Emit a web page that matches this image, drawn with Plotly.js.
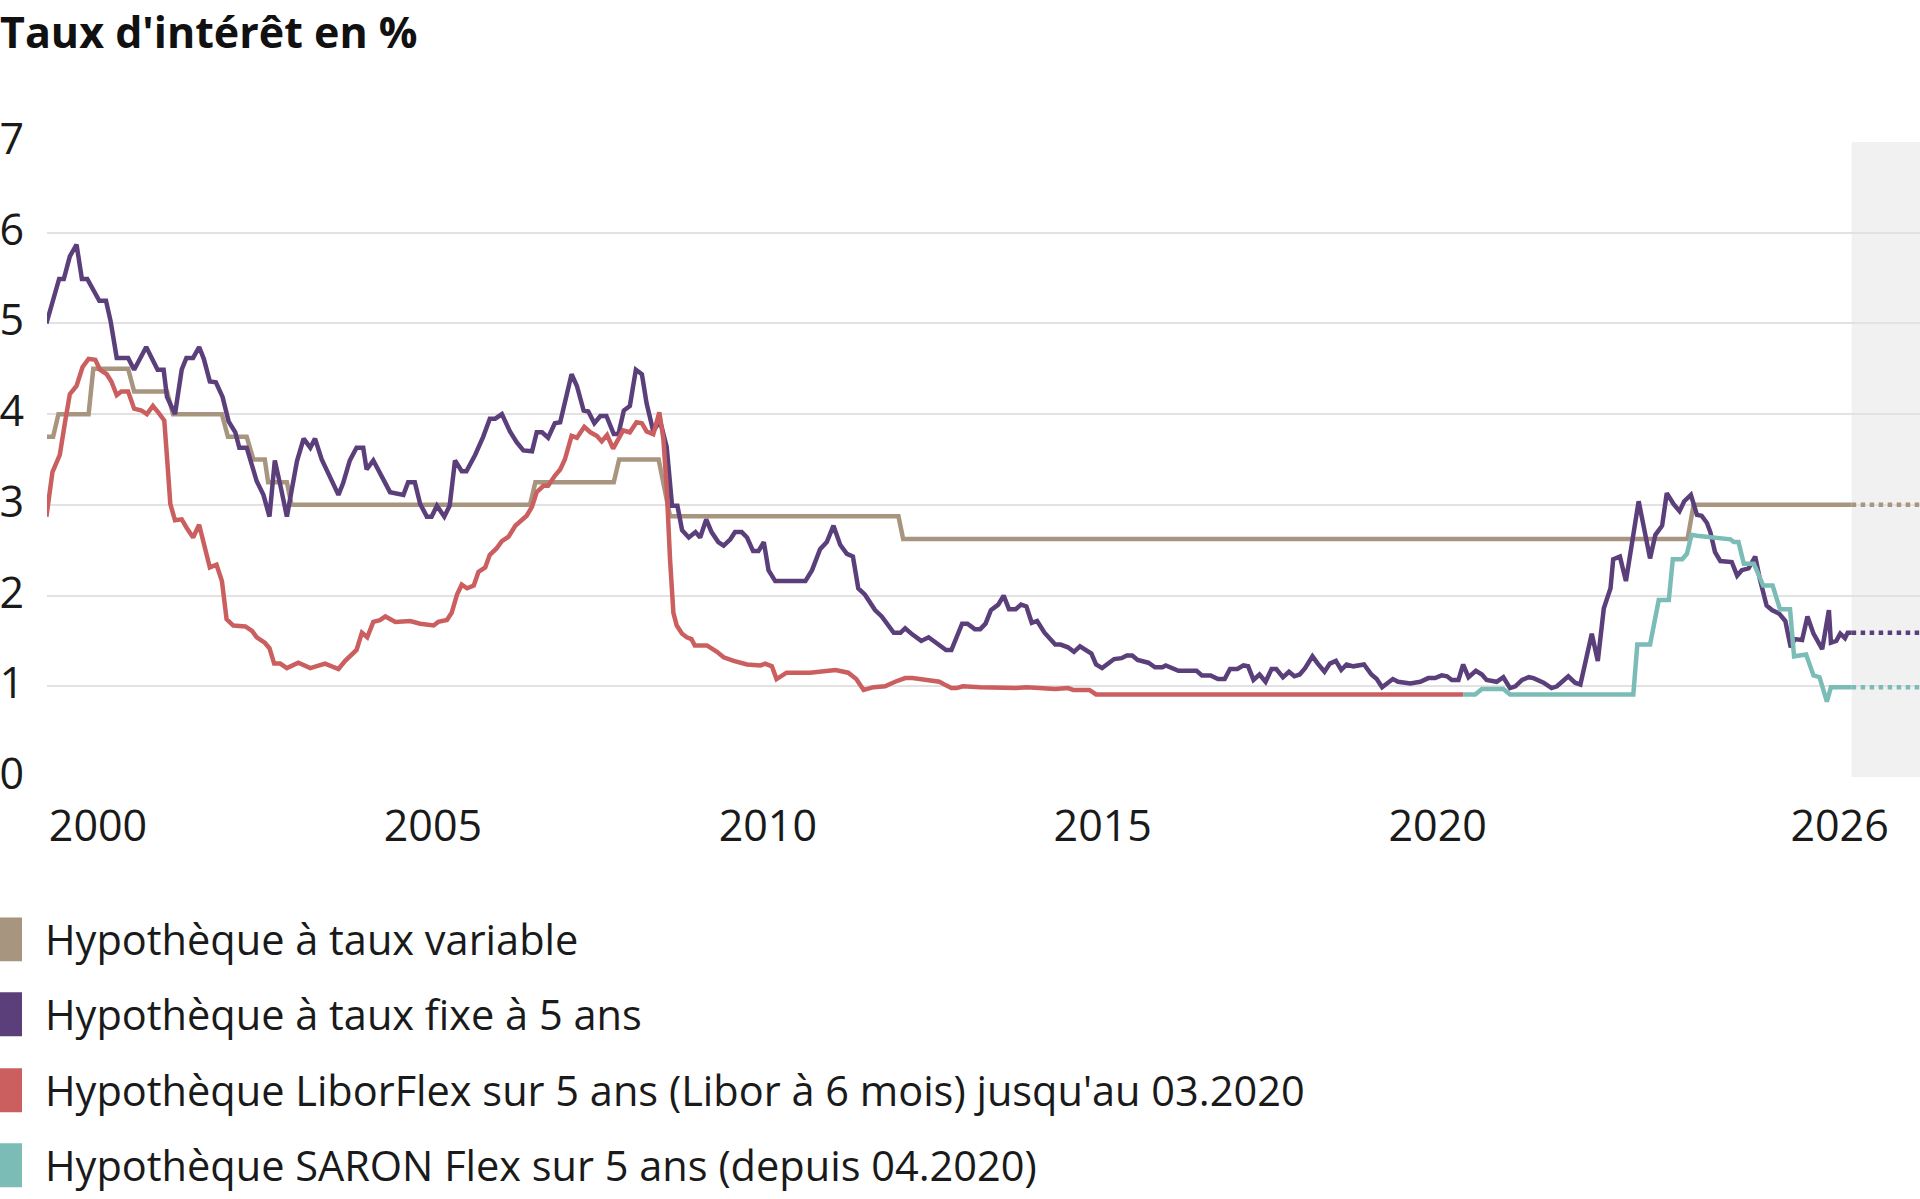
<!DOCTYPE html>
<html>
<head>
<meta charset="utf-8">
<script src="https://cdn.plot.ly/plotly-3.0.1.min.js"></script>
<style>
  html, body { margin: 0; padding: 0; background: #ffffff; }
  #chart { width: 1920px; height: 1199px; }
</style>
</head>
<body>
<div id="chart"></div>
<script>
// values, x in decimal years
var seriesNames = [
    "Hypothèque à taux variable",
    "Hypothèque à taux fixe à 5 ans",
    "Hypothèque LiborFlex sur 5 ans (Libor à 6 mois) jusqu'au 03.2020",
    "Hypothèque SARON Flex sur 5 ans (depuis 04.2020)"
];

var variableX = [1999.23, 1999.33, 1999.41, 1999.86, 1999.93, 2000.45, 2000.54, 2001.03, 2001.12, 2001.85,
    2001.94, 2002.22, 2002.32, 2002.49, 2002.54, 2002.82, 2002.89, 2006.45, 2006.53, 2007.70,
    2007.78, 2008.37, 2008.54, 2011.95, 2012.02, 2023.73, 2023.82, 2026.18];
var variableY = [3.75, 3.75, 4.0, 4.0, 4.5, 4.5, 4.25, 4.25, 4.0, 4.0,
    3.75, 3.75, 3.5, 3.5, 3.25, 3.25, 3.0, 3.0, 3.25, 3.25,
    3.5, 3.5, 2.875, 2.875, 2.625, 2.625, 3.0, 3.0];

var fixedX = [1999.23, 1999.42, 1999.49, 1999.58, 1999.68, 1999.76, 1999.84, 1999.93, 2000.02, 2000.12,
    2000.19, 2000.28, 2000.45, 2000.54, 2000.72, 2000.89, 2000.98, 2001.03, 2001.15, 2001.25,
    2001.32, 2001.42, 2001.51, 2001.58, 2001.67, 2001.76, 2001.86, 2001.95, 2002.05, 2002.11,
    2002.22, 2002.37, 2002.47, 2002.56, 2002.64, 2002.73, 2002.82, 2002.97, 2003.07, 2003.17,
    2003.24, 2003.34, 2003.59, 2003.66, 2003.76, 2003.86, 2003.96, 2004.01, 2004.11, 2004.36,
    2004.56, 2004.63, 2004.73, 2004.81, 2004.91, 2004.98, 2005.06, 2005.17, 2005.25, 2005.33,
    2005.43, 2005.50, 2005.63, 2005.75, 2005.85, 2005.93, 2006.03, 2006.15, 2006.25, 2006.35,
    2006.48, 2006.55, 2006.63, 2006.72, 2006.82, 2006.90, 2007.07, 2007.15, 2007.25, 2007.32,
    2007.41, 2007.50, 2007.59, 2007.70, 2007.77, 2007.85, 2007.94, 2008.03, 2008.12, 2008.19,
    2008.29, 2008.39, 2008.49, 2008.57, 2008.65, 2008.72, 2008.82, 2008.92, 2008.99, 2009.08,
    2009.16, 2009.26, 2009.34, 2009.44, 2009.51, 2009.61, 2009.69, 2009.78, 2009.86, 2009.94,
    2010.01, 2010.11, 2010.56, 2010.66, 2010.78, 2010.88, 2010.98, 2011.08, 2011.18, 2011.27,
    2011.35, 2011.45, 2011.60, 2011.70, 2011.88, 2011.98, 2012.05, 2012.16, 2012.29, 2012.40,
    2012.53, 2012.66, 2012.74, 2012.90, 2012.98, 2013.09, 2013.17, 2013.25, 2013.33, 2013.44,
    2013.52, 2013.60, 2013.70, 2013.78, 2013.86, 2013.94, 2014.02, 2014.13, 2014.29, 2014.37,
    2014.48, 2014.57, 2014.66, 2014.77, 2014.83, 2014.90, 2014.99, 2015.17, 2015.28, 2015.36,
    2015.44, 2015.52, 2015.68, 2015.78, 2015.89, 2015.94, 2016.13, 2016.40, 2016.48, 2016.61,
    2016.72, 2016.82, 2016.90, 2017.01, 2017.10, 2017.17, 2017.25, 2017.34, 2017.43, 2017.52,
    2017.59, 2017.69, 2017.78, 2017.86, 2017.94, 2018.02, 2018.13, 2018.21, 2018.31, 2018.39,
    2018.48, 2018.56, 2018.64, 2018.74, 2018.90, 2019.01, 2019.09, 2019.17, 2019.33, 2019.41,
    2019.59, 2019.74, 2019.86, 2019.96, 2020.06, 2020.14, 2020.21, 2020.31, 2020.38, 2020.46,
    2020.57, 2020.66, 2020.73, 2020.88, 2020.98, 2021.08, 2021.16, 2021.26, 2021.36, 2021.43,
    2021.58, 2021.70, 2021.78, 2021.95, 2022.05, 2022.13, 2022.30, 2022.39, 2022.48, 2022.58,
    2022.62, 2022.72, 2022.81, 2023.00, 2023.17, 2023.25, 2023.35, 2023.42, 2023.52, 2023.61,
    2023.68, 2023.78, 2023.87, 2023.94, 2024.02, 2024.07, 2024.14, 2024.22, 2024.31, 2024.39,
    2024.47, 2024.54, 2024.64, 2024.74, 2024.81, 2024.91, 2024.99, 2025.10, 2025.19, 2025.27,
    2025.33, 2025.44, 2025.52, 2025.61, 2025.74, 2025.84, 2025.87, 2025.95, 2026.01, 2026.08,
    2026.12, 2026.18];
var fixedY = [5.00, 5.49, 5.49, 5.74, 5.87, 5.49, 5.49, 5.37, 5.25, 5.25,
    5.02, 4.62, 4.62, 4.49, 4.74, 4.49, 4.49, 4.19, 4.00, 4.49,
    4.62, 4.62, 4.74, 4.61, 4.36, 4.35, 4.19, 3.92, 3.80, 3.63,
    3.63, 3.26, 3.11, 2.87, 3.49, 3.19, 2.87, 3.48, 3.73, 3.63,
    3.73, 3.50, 3.11, 3.24, 3.49, 3.63, 3.63, 3.39, 3.49, 3.14,
    3.11, 3.25, 3.25, 3.01, 2.87, 2.87, 2.99, 2.87, 2.99, 3.49,
    3.37, 3.37, 3.55, 3.75, 3.95, 3.95, 4.00, 3.81, 3.69, 3.60,
    3.59, 3.80, 3.80, 3.74, 3.90, 3.91, 4.44, 4.31, 4.04, 4.03,
    3.90, 3.98, 3.98, 3.78, 3.78, 4.04, 4.09, 4.49, 4.44, 4.12,
    3.81, 3.93, 3.64, 2.99, 2.99, 2.72, 2.64, 2.70, 2.64, 2.84,
    2.70, 2.59, 2.55, 2.62, 2.70, 2.70, 2.64, 2.49, 2.49, 2.59,
    2.28, 2.16, 2.16, 2.28, 2.51, 2.59, 2.77, 2.56, 2.46, 2.43,
    2.08, 2.01, 1.84, 1.77, 1.59, 1.59, 1.64, 1.57, 1.50, 1.54,
    1.47, 1.40, 1.40, 1.69, 1.69, 1.63, 1.63, 1.69, 1.84, 1.90,
    2.00, 1.85, 1.85, 1.90, 1.88, 1.70, 1.72, 1.59, 1.46, 1.46,
    1.43, 1.38, 1.44, 1.39, 1.36, 1.24, 1.20, 1.30, 1.31, 1.34,
    1.34, 1.29, 1.26, 1.21, 1.21, 1.23, 1.17, 1.17, 1.12, 1.12,
    1.08, 1.08, 1.19, 1.19, 1.23, 1.22, 1.07, 1.13, 1.05, 1.19,
    1.19, 1.10, 1.16, 1.11, 1.13, 1.20, 1.33, 1.25, 1.16, 1.25,
    1.28, 1.18, 1.24, 1.22, 1.24, 1.13, 1.08, 0.99, 1.08, 1.05,
    1.03, 1.05, 1.09, 1.09, 1.12, 1.11, 1.07, 1.07, 1.24, 1.10,
    1.17, 1.13, 1.07, 1.05, 1.10, 0.98, 1.00, 1.07, 1.10, 1.09,
    1.04, 0.98, 1.00, 1.11, 1.04, 1.02, 1.58, 1.28, 1.86, 2.08,
    2.40, 2.43, 2.16, 3.04, 2.41, 2.67, 2.77, 3.13, 3.01, 2.93,
    3.04, 3.11, 2.89, 2.88, 2.80, 2.70, 2.48, 2.38, 2.38, 2.37,
    2.22, 2.28, 2.30, 2.43, 2.18, 1.89, 1.84, 1.80, 1.72, 1.43,
    1.52, 1.51, 1.77, 1.58, 1.41, 1.84, 1.48, 1.50, 1.58, 1.53,
    1.59, 1.59];

var liborX = [1999.23, 1999.32, 1999.36, 1999.43, 1999.51, 1999.58, 1999.68, 1999.77, 1999.86, 1999.96,
    2000.03, 2000.13, 2000.20, 2000.28, 2000.35, 2000.45, 2000.54, 2000.65, 2000.73, 2000.82,
    2000.90, 2000.99, 2001.03, 2001.08, 2001.15, 2001.25, 2001.33, 2001.42, 2001.51, 2001.58,
    2001.67, 2001.77, 2001.85, 2001.92, 2002.02, 2002.20, 2002.30, 2002.37, 2002.49, 2002.56,
    2002.63, 2002.72, 2002.82, 2002.99, 2003.17, 2003.39, 2003.59, 2003.69, 2003.86, 2003.94,
    2004.02, 2004.11, 2004.21, 2004.29, 2004.44, 2004.66, 2004.81, 2005.01, 2005.08, 2005.21,
    2005.28, 2005.36, 2005.43, 2005.51, 2005.61, 2005.68, 2005.78, 2005.85, 2005.95, 2006.03,
    2006.13, 2006.23, 2006.30, 2006.40, 2006.48, 2006.55, 2006.65, 2006.72, 2006.82, 2006.90,
    2006.97, 2007.07, 2007.15, 2007.26, 2007.35, 2007.45, 2007.52, 2007.60, 2007.69, 2007.77,
    2007.84, 2007.94, 2008.04, 2008.12, 2008.19, 2008.29, 2008.38, 2008.44, 2008.49, 2008.54,
    2008.59, 2008.64, 2008.72, 2008.79, 2008.86, 2008.91, 2009.09, 2009.24, 2009.34, 2009.49,
    2009.69, 2009.89, 2009.96, 2010.06, 2010.13, 2010.28, 2010.63, 2011.01, 2011.20, 2011.32,
    2011.43, 2011.58, 2011.75, 2011.90, 2012.05, 2012.16, 2012.29, 2012.40, 2012.56, 2012.66,
    2012.74, 2012.82, 2012.91, 2013.17, 2013.70, 2013.86, 2014.29, 2014.48, 2014.56, 2014.80,
    2014.90, 2020.38];
var liborY = [2.87, 3.36, 3.43, 3.55, 3.92, 4.22, 4.31, 4.52, 4.61, 4.60,
    4.49, 4.44, 4.36, 4.21, 4.25, 4.25, 4.06, 4.04, 4.00, 4.09,
    4.02, 3.93, 3.53, 3.01, 2.83, 2.84, 2.74, 2.64, 2.78, 2.55,
    2.31, 2.34, 2.16, 1.74, 1.67, 1.66, 1.61, 1.54, 1.48, 1.42,
    1.25, 1.25, 1.20, 1.26, 1.20, 1.25, 1.19, 1.28, 1.40, 1.59,
    1.54, 1.71, 1.73, 1.77, 1.71, 1.72, 1.69, 1.67, 1.71, 1.73,
    1.81, 2.01, 2.12, 2.08, 2.11, 2.26, 2.31, 2.45, 2.52, 2.60,
    2.65, 2.77, 2.82, 2.88, 2.98, 3.14, 3.21, 3.21, 3.32, 3.39,
    3.50, 3.76, 3.74, 3.86, 3.80, 3.76, 3.70, 3.77, 3.62, 3.73,
    3.82, 3.80, 3.91, 3.90, 3.81, 3.78, 4.02, 3.73, 3.19, 2.40,
    1.81, 1.67, 1.58, 1.54, 1.52, 1.45, 1.45, 1.38, 1.32, 1.28,
    1.24, 1.23, 1.25, 1.22, 1.08, 1.15, 1.15, 1.18, 1.15, 1.08,
    0.96, 0.99, 1.00, 1.05, 1.09, 1.09, 1.08, 1.06, 1.05, 1.01,
    0.98, 0.98, 1.00, 0.99, 0.98, 0.99, 0.97, 0.98, 0.96, 0.96,
    0.91, 0.91];

var saronX = [2020.38, 2020.56, 2020.66, 2020.98, 2021.08, 2022.92, 2022.98, 2023.17, 2023.30, 2023.45,
    2023.51, 2023.65, 2023.72, 2023.79, 2023.87, 2024.22, 2024.37, 2024.42, 2024.49, 2024.57,
    2024.72, 2024.86, 2025.00, 2025.11, 2025.26, 2025.32, 2025.50, 2025.61, 2025.70, 2025.81,
    2025.87, 2026.18];
var saronY = [0.91, 0.91, 0.97, 0.97, 0.91, 0.91, 1.46, 1.46, 1.95, 1.95,
    2.40, 2.40, 2.46, 2.67, 2.66, 2.64, 2.62, 2.59, 2.59, 2.35,
    2.35, 2.11, 2.11, 1.85, 1.85, 1.33, 1.35, 1.12, 1.10, 0.83,
    0.99, 0.99];

// dotted continuation in the grey zone
var outlookX = [2026.18, 2027.2];
var outlookVariable = [3.0, 3.0];
var outlookFixed = [1.59, 1.59];
var outlookSaron = [0.99, 0.99];

var yearTicks = [2000, 2005, 2010, 2015, 2020, 2026];
var rateTicks = [0, 1, 2, 3, 4, 5, 6, 7];

var colors = ['#a8957f', '#5b3f7b', '#cb5f5f', '#7bbdb6'];


///////////////////////////////////////////////////////////////////////////////
var W = 1920, H = 1199;
var margin = {l: 47, r: 0, t: 142, b: 421.5};
var px2x = (px) => (px - margin.l) / (W - margin.l - margin.r);
var py2y = (py) => (H - margin.b - py) / (H - margin.t - margin.b);

var fontFamily = '"Open Sans", "Noto Sans", sans-serif';

function line_create(x, y, color, dash)
{
    return {
        type: 'scatter',
        mode: 'lines',
        x: x,
        y: y,
        line: {color: color, width: 4.5, dash: dash || 'solid'},
        hoverinfo: 'skip',
        showlegend: false,
    };
}

var traces = [];
traces.push( line_create(variableX, variableY, colors[0]) );
traces.push( line_create(fixedX, fixedY, colors[1]) );
traces.push( line_create(liborX, liborY, colors[2]) );
traces.push( line_create(saronX, saronY, colors[3]) );
traces.push( line_create(outlookX, outlookVariable, colors[0], 'dot') );
traces.push( line_create(outlookX, outlookFixed, colors[1], 'dot') );
traces.push( line_create(outlookX, outlookSaron, colors[3], 'dot') );

// legend: tall swatch + label, built by hand
var legendRows = [940, 1015, 1091, 1166];
var shapes = [];
var annotations = [];

shapes.push({
    type: 'rect', layer: 'below',
    xref: 'x', yref: 'y',
    x0: outlookX[0], x1: outlookX[1], y0: 0, y1: 7,
    fillcolor: '#f1f1f2', line: {width: 0},
});

seriesNames.forEach((name, i) => {
    var cy = legendRows[i];
    shapes.push({
        type: 'rect', xref: 'paper', yref: 'paper',
        x0: px2x(0), x1: px2x(22), y0: py2y(cy + 22), y1: py2y(cy - 22),
        fillcolor: colors[i], line: {width: 0},
    });
    annotations.push({
        text: name, xref: 'paper', yref: 'paper',
        x: px2x(43), y: py2y(cy), xanchor: 'left', yanchor: 'middle',
        showarrow: false,
        font: {family: fontFamily, size: 41.5, color: '#1a1a1a'},
    });
});

var layout = {
    width: W,
    height: H,
    margin: margin,
    paper_bgcolor: '#ffffff',
    plot_bgcolor: '#ffffff',
    showlegend: false,
    hovermode: false,
    font: {family: fontFamily, color: '#1a1a1a'},
    title: {
        text: "<b>Taux d'intérêt en %</b>",
        x: 0, xref: 'container', xanchor: 'left',
        y: 1 - 33 / H, yref: 'container', yanchor: 'middle',
        font: {family: fontFamily, size: 43, color: '#111111'},
    },
    xaxis: {
        type: 'linear',
        range: [1999.239, 2027.2],
        tickvals: yearTicks,
        ticktext: yearTicks.map(String),
        showgrid: false,
        zeroline: false,
        showline: false,
        ticks: '',
        ticklabelstandoff: 20,
        tickfont: {family: fontFamily, size: 43, color: '#1a1a1a'},
    },
    yaxis: {
        range: [0, 7],
        tickvals: rateTicks,
        showgrid: true,
        gridcolor: '#e2e2e2',
        gridwidth: 2,
        zeroline: false,
        showline: false,
        ticks: '',
        ticklabelstandoff: 22,
        ticklabelshift: -3,
        tickfont: {family: fontFamily, size: 43, color: '#1a1a1a'},
    },
    shapes: shapes,
    annotations: annotations,
};

var config = {staticPlot: true, displayModeBar: false};

Plotly.newPlot('chart', traces, layout, config);
</script>
</body>
</html>
